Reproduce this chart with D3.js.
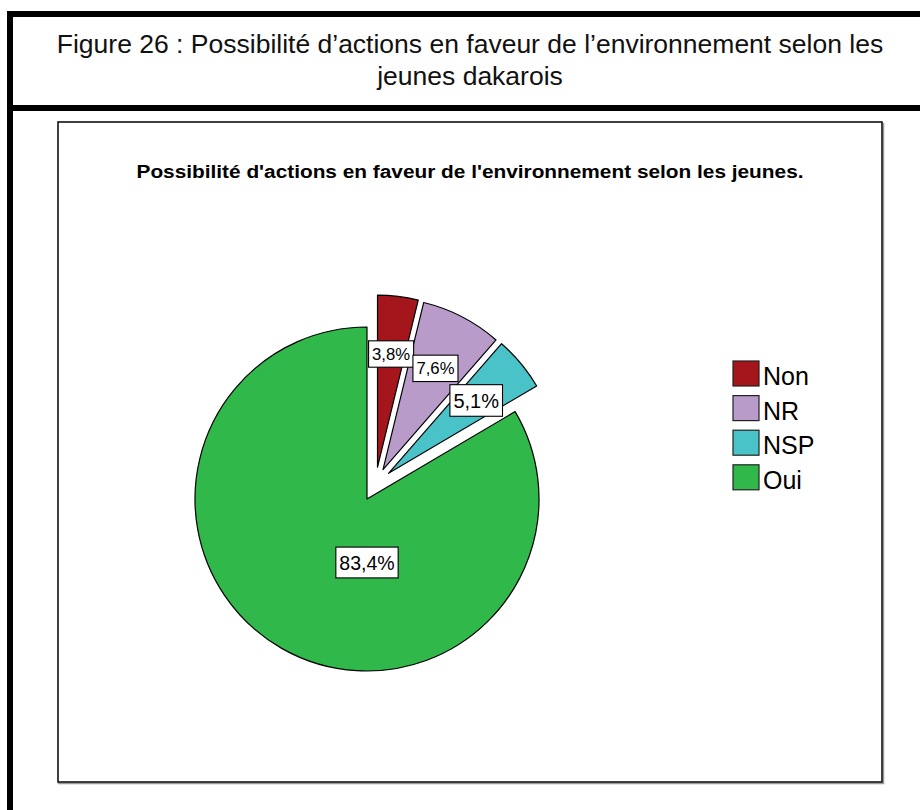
<!DOCTYPE html>
<html>
<head>
<meta charset="utf-8">
<script src="https://cdn.jsdelivr.net/npm/d3@7"></script>
<style>
  html, body { margin: 0; padding: 0; background: #fff; }
  svg { display: block; font-family: "Liberation Sans", Arial, sans-serif; }
</style>
</head>
<body>
<svg id="chart" width="920" height="810"></svg>
<script>
// Survey answers and their shares (%)
const categories = ["Non", "NR", "NSP", "Oui"];
const percents = [3.8, 7.6, 5.1, 83.4];
const valueLabels = ["3,8%", "7,6%", "5,1%", "83,4%"];
const explodedCategories = ["Non", "NR", "NSP"];

const captionLines = [
  "Figure 26 : Possibilité d’actions en faveur de l’environnement selon les",
  "jeunes dakarois"
];
const chartTitle = "Possibilité d'actions en faveur de l'environnement selon les jeunes.";

// Styling
const colors = { Non: "#a5161c", NR: "#b99bca", NSP: "#49c2c8", Oui: "#30b84a" };
const labelFontSize = { Non: 16.7, NR: 16.7, NSP: 20, Oui: 19.5 };

const svg = d3.select("#chart");

// Document frame: thick rules at top, under the caption and on the left
const frame = svg.append("g");
frame.append("rect").attr("x", 7).attr("y", 11).attr("width", 913).attr("height", 6).attr("fill", "#000");
frame.append("rect").attr("x", 7).attr("y", 105).attr("width", 913).attr("height", 6).attr("fill", "#000");
frame.append("rect").attr("x", 7).attr("y", 11).attr("width", 6).attr("height", 799).attr("fill", "#000");

// Caption
svg.append("g").selectAll("text").data(captionLines).join("text")
  .attr("x", 470)
  .attr("y", (d, i) => 53 + i * 32)
  .attr("text-anchor", "middle")
  .attr("font-size", 26.5)
  .attr("fill", "#111")
  .text(d => d);

// Chart box with a soft grey shadow
const box = { x: 58, y: 122, w: 824, h: 660 };
svg.append("path")
  .attr("d", `M${box.x},${box.y + box.h + 1.5}H${box.x + box.w + 1.5}V${box.y + 1}`)
  .attr("fill", "none").attr("stroke", "#999").attr("stroke-width", 1.5);
svg.append("rect")
  .attr("x", box.x).attr("y", box.y).attr("width", box.w).attr("height", box.h)
  .attr("fill", "#fff").attr("stroke", "#111").attr("stroke-width", 1.6);

// Chart title
svg.append("text")
  .attr("x", 470).attr("y", 178)
  .attr("text-anchor", "middle")
  .attr("font-size", 17.5)
  .attr("font-weight", "bold")
  .attr("textLength", 667)
  .attr("lengthAdjust", "spacingAndGlyphs")
  .attr("fill", "#000")
  .text(chartTitle);

// Pie
const cx = 367, cy = 499, radius = 172, explodeDist = 33.5;
const pie = d3.pie().sort(null).value(d => d.value);
const arcs = pie(categories.map((c, i) => ({ cat: c, value: percents[i], label: valueLabels[i] })));
const arc = d3.arc().innerRadius(0).outerRadius(radius);

// Exploded block spans the contiguous small slices; each slice is pushed
// out halfway between its own bisector and the block bisector.
const exArcs = arcs.filter(a => explodedCategories.includes(a.data.cat));
const blockMid = (d3.min(exArcs, a => a.startAngle) + d3.max(exArcs, a => a.endAngle)) / 2;
function offsetOf(a) {
  if (!explodedCategories.includes(a.data.cat)) return [0, 0];
  const mid = (a.startAngle + a.endAngle) / 2;
  const dir = (mid + blockMid) / 2;
  return [explodeDist * Math.sin(dir), -explodeDist * Math.cos(dir)];
}

const pieG = svg.append("g").attr("transform", `translate(${cx},${cy})`);
const slices = pieG.selectAll("g.slice").data(arcs).join("g")
  .attr("class", "slice")
  .attr("transform", a => { const o = offsetOf(a); return `translate(${o[0]},${o[1]})`; });

slices.append("path")
  .attr("d", arc)
  .attr("fill", a => colors[a.data.cat])
  .attr("stroke", "#000")
  .attr("stroke-width", 1.2)
  .attr("stroke-linejoin", "round");

// Value labels in white boxes
const smallLabelArc = d3.arc().innerRadius(114).outerRadius(114);
const mainLabelRadius = 63.5;
function labelPos(a) {
  if (explodedCategories.includes(a.data.cat)) return smallLabelArc.centroid(a);
  // the dominant slice carries its label straight below the centre
  return [0, mainLabelRadius];
}

const labels = pieG.append("g").selectAll("g").data(arcs).join("g")
  .attr("transform", a => {
    const o = offsetOf(a), p = labelPos(a);
    return `translate(${o[0] + p[0]},${o[1] + p[1]})`;
  });
labels.each(function (a) {
  const g = d3.select(this);
  const fs = labelFontSize[a.data.cat];
  const t = g.append("text")
    .attr("text-anchor", "middle")
    .attr("dy", "0.36em")
    .attr("font-size", fs)
    .attr("fill", "#000")
    .text(a.data.label);
  const w = t.node().getComputedTextLength() + 7;
  const h = fs * 1.58;
  g.insert("rect", "text")
    .attr("x", -w / 2).attr("y", -h / 2)
    .attr("width", w).attr("height", h)
    .attr("fill", "#fff").attr("stroke", "#000").attr("stroke-width", 1.1);
});

// Legend
const legend = svg.append("g").attr("transform", "translate(733,361)");
const legendY = d3.scalePoint().domain(categories).range([0, 3 * 34.6]);
const items = legend.selectAll("g").data(categories).join("g")
  .attr("transform", d => `translate(0,${legendY(d)})`);
items.append("rect")
  .attr("width", 26).attr("height", 25)
  .attr("fill", d => colors[d])
  .attr("stroke", "#222").attr("stroke-width", 1.2);
items.append("text")
  .attr("x", 30).attr("y", 24)
  .attr("font-size", 25)
  .attr("fill", "#000")
  .text(d => d);
</script>
</body>
</html>
